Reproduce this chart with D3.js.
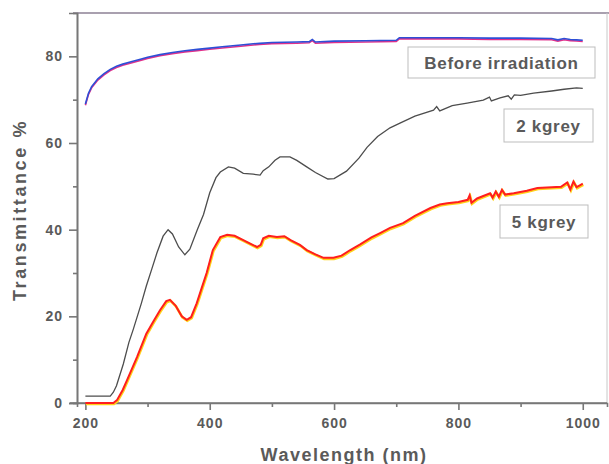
<!DOCTYPE html>
<html>
<head>
<meta charset="utf-8">
<script src="https://cdn.jsdelivr.net/npm/d3@7"></script>
<style>
  html, body { margin: 0; padding: 0; background: #fff; }
  svg { display: block; }
  text { font-family: "Liberation Sans", Arial, sans-serif; font-weight: bold; fill: #5a5a5a; }
</style>
</head>
<body>
<svg id="chart" width="609" height="464"></svg>
<script>
// UV-Vis transmittance spectra (wavelength in nm, transmittance in %)
const beforeWl = [200,205,210,220,230,240,250,260,275,290,300,320,340,360,380,400,420,450,470,480,500,540,560,565,570,600,650,700,705,750,800,850,900,950,960,970,980,990,1000];
const beforeT  = [69.0,71.5,73.0,74.8,76.0,77.0,77.7,78.2,78.8,79.4,79.8,80.4,80.9,81.3,81.6,81.9,82.2,82.6,82.9,83.0,83.2,83.3,83.4,83.9,83.3,83.5,83.6,83.7,84.3,84.3,84.3,84.2,84.2,84.1,83.8,84.1,83.9,83.8,83.7];

const kgrey2Wl = [200,240,245,250,261,270,277,290,298,307,315,325,333,340,350,360,368,380,390,400,410,417,430,440,454,470,481,486,495,505,513,529,540,556,570,590,600,620,640,653,670,690,706,730,760,765,770,790,814,840,850,853,867,880,885,890,900,921,950,970,990,1000];
const kgrey2T  = [1.6,1.6,2.5,4.0,9.0,14.0,17.0,23.0,27.0,31.0,34.6,38.5,40.0,39.0,36.0,34.2,35.5,40.0,43.5,48.5,52.0,53.3,54.5,54.2,53.0,52.8,52.6,53.6,54.5,56.0,56.8,56.8,56.0,54.5,53.2,51.7,51.8,53.5,56.5,59.0,61.5,63.5,64.6,66.2,67.6,68.4,67.4,68.6,69.2,69.9,70.6,69.7,70.4,70.9,70.1,71.1,71.0,71.5,72.0,72.4,72.7,72.6];

const kgrey5Wl = [200,245,251,260,267,283,298,310,320,330,336,345,355,363,370,379,387,395,405,417,428,440,454,465,476,482,486,495,508,520,530,545,556,570,583,599,612,626,642,660,674,690,711,730,755,770,782,800,815,818,821,830,851,855,860,865,870,875,889,910,927,950,965,975,980,985,990,996,1000];
const kgrey5T  = [0,0,0.7,3.0,5.3,10.6,16.0,19.0,21.4,23.5,23.8,22.5,20.0,19.2,19.8,23.0,26.5,30.0,35.3,38.3,38.8,38.6,37.6,36.8,36.0,36.5,38.0,38.6,38.3,38.5,37.6,36.5,35.3,34.3,33.5,33.5,34.0,35.3,36.6,38.2,39.2,40.4,41.5,43.2,45.0,45.8,46.1,46.4,46.9,47.9,46.2,47.2,48.4,47.4,48.8,47.6,49.2,48.1,48.4,49.0,49.6,49.8,49.9,50.9,49.3,51.1,49.8,50.3,50.6];

const xTicks = [200,400,600,800,1000];
const xMinor = [300,500,700,900];
const yTicks = [0,20,40,60,80];
const yMinor = [10,30,50,70];

const svg = d3.select("#chart");
const x = d3.scaleLinear().domain([186.5, 1039]).range([77, 607]);
const y = d3.scaleLinear().domain([0, 90]).range([403, 13]);

const zip = (a, b) => a.map((v, i) => [v, b[i]]);
const line = d3.line().x(d => x(d[0])).y(d => y(d[1]));

// frame: top and right borders
svg.append("line").attr("x1", 73).attr("x2", 609).attr("y1", y(90)).attr("y2", y(90))
  .attr("stroke", "#8c8094").attr("stroke-width", 1.6);
svg.append("line").attr("x1", 607).attr("x2", 607).attr("y1", y(90)).attr("y2", 403)
  .attr("stroke", "#c8c8c8").attr("stroke-width", 1);

// axes
const fmt = d3.format("d");
const xAxis = svg.append("g").attr("transform", "translate(0,403)")
  .call(d3.axisBottom(x).tickValues(xTicks).tickFormat(fmt).tickSize(7).tickPadding(8));
const xAxisMinor = svg.append("g").attr("transform", "translate(0,403)")
  .call(d3.axisBottom(x).tickValues(xMinor).tickSize(4).tickFormat(""));
const yAxis = svg.append("g").attr("transform", "translate(77,0)")
  .call(d3.axisLeft(y).tickValues(yTicks).tickFormat(fmt).tickSize(8).tickPadding(6));
const yAxisMinor = svg.append("g").attr("transform", "translate(77,0)")
  .call(d3.axisLeft(y).tickValues(yMinor).tickSize(4).tickFormat(""));

[xAxis, xAxisMinor, yAxis, yAxisMinor].forEach(g => {
  g.select(".domain").attr("stroke", "#777").attr("stroke-width", 1.6);
  g.selectAll(".tick line").attr("stroke", "#777").attr("stroke-width", 1.6);
  g.selectAll(".tick text").style("font-size", "14px").style("letter-spacing", "1px").attr("fill", "#5e5e5e");
});
xAxis.select(".domain").attr("d", "M70,0H607");

// spectra
svg.append("path").datum(zip(beforeWl, beforeT)).attr("d", line)
  .attr("fill", "none").attr("stroke", "#e0308a").attr("stroke-width", 1.6)
  .attr("transform", "translate(0,1.2)");
svg.append("path").datum(zip(beforeWl, beforeT)).attr("d", line)
  .attr("fill", "none").attr("stroke", "#2e4fd6").attr("stroke-width", 1.6);

svg.append("path").datum(zip(kgrey2Wl, kgrey2T)).attr("d", line)
  .attr("fill", "none").attr("stroke", "#4d4d4d").attr("stroke-width", 1.3);

svg.append("path").datum(zip(kgrey5Wl, kgrey5T)).attr("d", line)
  .attr("fill", "none").attr("stroke", "#ffd21a").attr("stroke-width", 2.6)
  .attr("transform", "translate(0.6,1)");
svg.append("path").datum(zip(kgrey5Wl, kgrey5T)).attr("d", line)
  .attr("fill", "none").attr("stroke", "#ff1e1e").attr("stroke-width", 2);

// curve labels in boxes
const boxes = [
  {text: "Before irradiation", x0: 408, x1: 595, y0: 47, y1: 78},
  {text: "2 kgrey", x0: 504, x1: 593, y0: 109, y1: 142},
  {text: "5 kgrey", x0: 500, x1: 588, y0: 205, y1: 238}
];
boxes.forEach(b => {
  svg.append("rect").attr("x", b.x0).attr("y", b.y0)
    .attr("width", b.x1 - b.x0).attr("height", b.y1 - b.y0)
    .attr("fill", "#fff").attr("stroke", "#bdbdbd").attr("stroke-width", 1);
  svg.append("text").attr("x", (b.x0 + b.x1) / 2).attr("y", (b.y0 + b.y1) / 2 + 6)
    .attr("text-anchor", "middle").style("font-size", "17px").style("letter-spacing", "0.7px")
    .text(b.text);
});

// axis titles
svg.append("text").attr("x", 344).attr("y", 461).attr("text-anchor", "middle")
  .style("font-size", "18px").style("letter-spacing", "1.5px").text("Wavelength (nm)");
svg.append("text").attr("transform", "translate(26,210) rotate(-90)").attr("text-anchor", "middle")
  .style("font-size", "18px").style("letter-spacing", "2.6px").text("Transmittance %");
</script>
</body>
</html>
